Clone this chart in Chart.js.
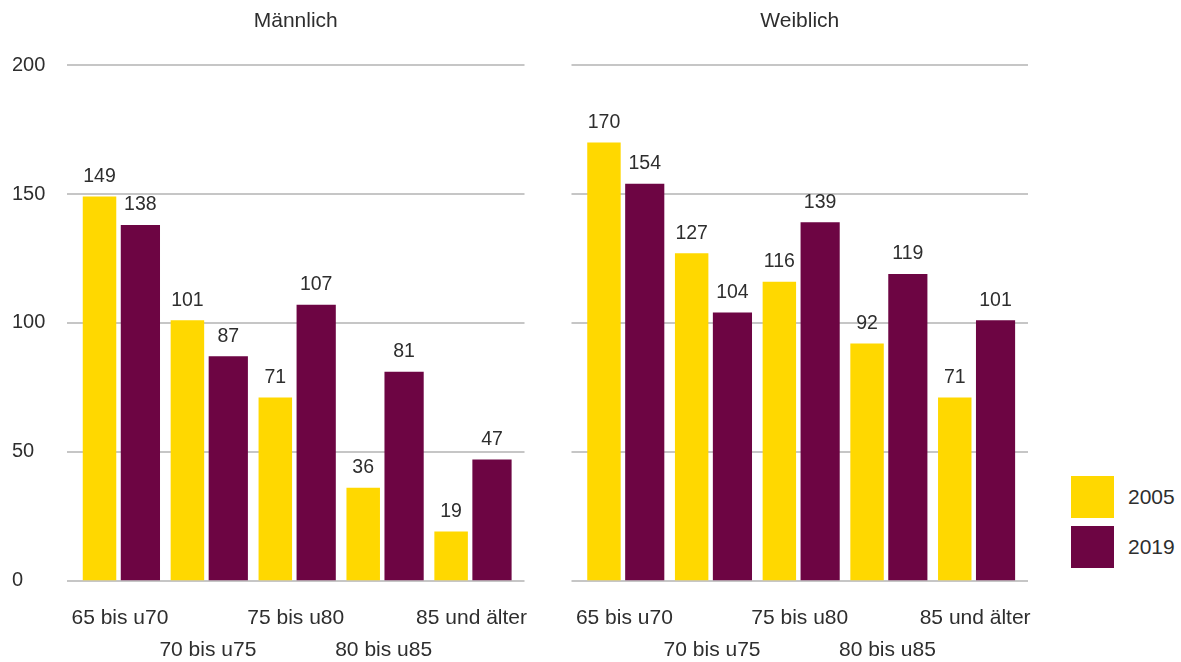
<!DOCTYPE html>
<html>
<head>
<meta charset="utf-8">
<script src="https://cdn.jsdelivr.net/npm/chart.js@4/dist/chart.umd.min.js"></script>
<style>
  html, body { margin: 0; padding: 0; background: #fff; }
  body { width: 1181px; height: 662px; position: relative; overflow: hidden; font-family: 'Liberation Sans', Arial, sans-serif; }
  canvas { position: absolute; top: 0; }
  #maleChart { left: 0; }
  #femaleChart { left: 540px; }
  #legend { position: absolute; left: 1071px; top: 476px; }
  .item { display: flex; align-items: center; height: 42px; margin-bottom: 8px; }
  .box { width: 43px; height: 42px; margin-right: 14px; }
  .item span { font-size: 21px; color: #2e2e2e; }
</style>
</head>
<body>
<canvas id="maleChart" width="560" height="662"></canvas>
<canvas id="femaleChart" width="530" height="662"></canvas>
<div id="legend"></div>
<script>
const ageGroups = ['65 bis u70', '70 bis u75', '75 bis u80', '80 bis u85', '85 und älter'];
const years = ['2005', '2019'];
const male2005 = [149, 101, 71, 36, 19];
const male2019 = [138, 87, 107, 81, 47];
const female2005 = [170, 127, 116, 92, 71];
const female2019 = [154, 104, 139, 119, 101];
const yTicks = [0, 50, 100, 150, 200];

const yellow = '#FFD800';
const purple = '#6D0543';
const textColor = '#2e2e2e';
const fontFamily = "'Liberation Sans', Arial, sans-serif";

// every second label goes to the lower row
const xLabels = ageGroups.map((g, i) => i % 2 ? ['', g] : g);

const gridLines = {
    id: 'gridLines',
    beforeDatasetsDraw(chart) {
        const { ctx, chartArea, scales } = chart;
        ctx.save();
        ctx.strokeStyle = '#c6c6c6';
        ctx.lineWidth = 2;
        yTicks.forEach(v => {
            const py = Math.round(scales.y.getPixelForValue(v));
            ctx.beginPath();
            ctx.moveTo(chartArea.left - 9, py);
            ctx.lineTo(chartArea.right + 9, py);
            ctx.stroke();
        });
        ctx.restore();
    }
};

const valueLabels = {
    id: 'valueLabels',
    afterDatasetsDraw(chart) {
        const ctx = chart.ctx;
        ctx.save();
        ctx.font = '19.5px ' + fontFamily;
        ctx.fillStyle = textColor;
        ctx.textAlign = 'center';
        ctx.textBaseline = 'middle';
        chart.data.datasets.forEach((ds, i) => {
            chart.getDatasetMeta(i).data.forEach((bar, j) => {
                ctx.fillText(ds.data[j], bar.x, bar.y - 20);
            });
        });
        ctx.restore();
    }
};

function panel(id, title, a, b, showY, padding) {
    return new Chart(document.getElementById(id), {
        type: 'bar',
        data: {
            labels: xLabels,
            datasets: [{
                label: years[0],
                data: a,
                backgroundColor: yellow,
                categoryPercentage: 0.93,
                barPercentage: 0.82
            }, {
                label: years[1],
                data: b,
                backgroundColor: purple,
                categoryPercentage: 0.93,
                barPercentage: 0.96
            }]
        },
        options: {
            responsive: false,
            animation: false,
            layout: { padding: padding },
            plugins: {
                legend: { display: false },
                tooltip: { enabled: false },
                title: {
                    display: true,
                    text: title,
                    fullSize: false,
                    color: textColor,
                    font: { family: fontFamily, size: 21, weight: 'normal', lineHeight: 1.2 },
                    padding: { top: 9, bottom: 31 }
                }
            },
            scales: {
                x: {
                    grid: { display: false },
                    border: { display: false },
                    ticks: {
                        color: textColor,
                        padding: 14,
                        maxRotation: 0,
                        autoSkip: false,
                        font: { family: fontFamily, size: 21, lineHeight: 1.52 }
                    },
                    afterFit(scale) { scale.height = 81.5; }
                },
                y: {
                    display: showY,
                    min: 0,
                    max: 200,
                    grid: { display: false },
                    border: { display: false },
                    ticks: {
                        stepSize: 50,
                        color: textColor,
                        crossAlign: 'far',
                        font: { family: fontFamily, size: 20 }
                    },
                    afterFit(scale) { scale.width = showY ? 64 : 0; }
                }
            }
        },
        plugins: [gridLines, valueLabels]
    });
}

const maleChart = panel('maleChart', 'Männlich', male2005, male2019, true, { left: 12, right: 44.5, top: 0, bottom: 0 });
panel('femaleChart', 'Weiblich', female2005, female2019, false, { left: 40.5, right: 51, top: 0, bottom: 0 });

// html legend from the chart's own legend items
const legendEl = document.getElementById('legend');
Chart.defaults.plugins.legend.labels.generateLabels(maleChart).forEach(item => {
    const row = document.createElement('div');
    row.className = 'item';
    const box = document.createElement('div');
    box.className = 'box';
    box.style.background = item.fillStyle;
    const txt = document.createElement('span');
    txt.textContent = item.text;
    row.appendChild(box);
    row.appendChild(txt);
    legendEl.appendChild(row);
});
</script>
</body>
</html>
